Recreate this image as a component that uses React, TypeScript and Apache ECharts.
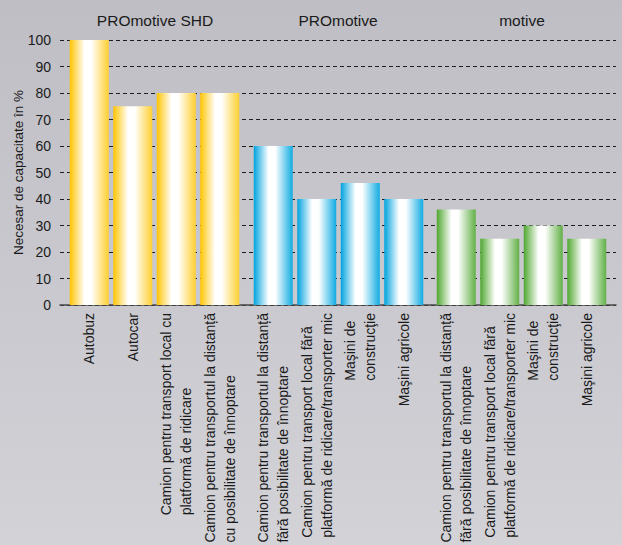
import React, { useEffect, useRef } from "react";
import * as echarts from "echarts";

const groupNames = ["PROmotive SHD", "PROmotive", "motive"];

const categoriesShd = [
  "Autobuz",
  "Autocar",
  "Camion pentru transport local cu\nplatformă de ridicare",
  "Camion pentru transportul la distanță\ncu posibilitate de înnoptare",
];
const valuesShd = [100, 75, 80, 80];

const categoriesPro = [
  "Camion pentru transportul la distanță\nfără posibilitate de înnoptare",
  "Camion pentru transport local fără\nplatformă de ridicare/transporter mic",
  "Maşini de\nconstrucţie",
  "Maşini agricole",
];
const valuesPro = [60, 40, 46, 40];

const categoriesMotive = [
  "Camion pentru transportul la distanță\nfără posibilitate de înnoptare",
  "Camion pentru transport local fără\nplatformă de ridicare/transporter mic",
  "Maşini de\nconstrucţie",
  "Maşini agricole",
];
const valuesMotive = [36, 25, 30, 25];

const yTicks = [0, 10, 20, 30, 40, 50, 60, 70, 80, 90, 100];

const FONT = "'Liberation Sans', Arial, Helvetica, sans-serif";

function barGradient(edgeL: string, edgeR: string) {
  return new echarts.graphic.LinearGradient(0, 0, 1, 0, [
    { offset: 0, color: edgeL },
    { offset: 0.38, color: "#ffffff" },
    { offset: 0.55, color: "#ffffff" },
    { offset: 1, color: edgeR },
  ]);
}

export default function App() {
  const ref = useRef<HTMLDivElement>(null);

  useEffect(() => {
    if (!ref.current) return;
    const chart = echarts.init(ref.current, null, { renderer: "svg" });

    const groups = [
      { cats: categoriesShd, vals: valuesShd, left: 67.5, colL: "#ffc400", colR: "#ffcf30" },
      { cats: categoriesPro, vals: valuesPro, left: 251.5, colL: "#00a3df", colR: "#10ace2" },
      { cats: categoriesMotive, vals: valuesMotive, left: 434.5, colL: "#4fa72f", colR: "#62b046" },
    ];
    const gridTop = 40;
    const gridBottom = 240;
    const groupWidth = 174;
    const titleCenters = [155, 338, 522];

    const labelFormatter = (v: string) =>
      v
        .split("\n")
        .map((l) => `{a|${l}}`)
        .join("\n");

    const grids: any[] = [
      { left: 60, right: 6, top: gridTop, bottom: gridBottom, outerBoundsMode: "none", containLabel: false },
    ];
    const xAxes: any[] = [
      {
        gridIndex: 0,
        type: "category",
        data: [""],
        axisLine: { show: true, lineStyle: { color: "#4a4a4a", width: 1.5 } },
        axisTick: { show: false },
        axisLabel: { show: false },
      },
    ];
    const yAxes: any[] = [
      {
        gridIndex: 0,
        type: "value",
        min: 0,
        max: 100,
        interval: 10,
        axisLine: { show: false },
        axisTick: { show: false },
        axisLabel: {
          fontSize: 14,
          color: "#1a1a1a",
          fontFamily: FONT,
          margin: 9,
          formatter: (v: number) => (yTicks.includes(v) ? String(v) : ""),
        },
        splitLine: { show: true, lineStyle: { color: "#1e1e1e", width: 1, type: [4, 3] } },
        name: "Necesar de capacitate în %",
        nameLocation: "middle",
        nameGap: 35,
        nameMoveOverlap: false,
        nameTextStyle: { fontSize: 13.5, color: "#1a1a1a", fontFamily: FONT },
      },
    ];
    const series: any[] = [];

    groups.forEach((g, i) => {
      const idx = i + 1;
      grids.push({
        left: g.left,
        width: groupWidth,
        top: gridTop,
        bottom: gridBottom,
        outerBoundsMode: "none",
        containLabel: false,
      });
      xAxes.push({
        gridIndex: idx,
        type: "category",
        data: g.cats,
        axisLine: { show: false },
        axisTick: { show: false },
        axisLabel: {
          interval: 0,
          rotate: 90,
          margin: 8,
          formatter: labelFormatter,
          rich: {
            a: {
              align: "left",
              fontSize: 14,
              lineHeight: 20,
              color: "#1a1a1a",
              fontFamily: FONT,
            },
          },
        },
      });
      yAxes.push({
        gridIndex: idx,
        type: "value",
        min: 0,
        max: 100,
        show: false,
        splitLine: { show: false },
      });
      series.push({
        type: "bar",
        xAxisIndex: idx,
        yAxisIndex: idx,
        data: g.vals,
        barWidth: 39,
        itemStyle: { color: barGradient(g.colL, g.colR) },
        z: 3,
      });
    });

    chart.setOption({
      animation: false,
      backgroundColor: new echarts.graphic.LinearGradient(0, 0, 0, 1, [
        { offset: 0, color: "#bebec4" },
        { offset: 0.5, color: "#c8c8ce" },
        { offset: 1, color: "#d2d2d7" },
      ]),
      grid: grids,
      xAxis: xAxes,
      yAxis: yAxes,
      series,
      graphic: groupNames.map((name, i) => ({
        type: "text",
        x: titleCenters[i],
        y: 20,
        style: {
          text: name,
          fontSize: 15.5,
          fontFamily: FONT,
          fill: "#1a1a1a",
          textAlign: "center",
          textVerticalAlign: "middle",
        },
      })),
    });

    return () => chart.dispose();
  }, []);

  return (
    <div
      ref={ref}
      style={{ position: "absolute", left: 0, top: 0, width: 622, height: 545 }}
    />
  );
}
